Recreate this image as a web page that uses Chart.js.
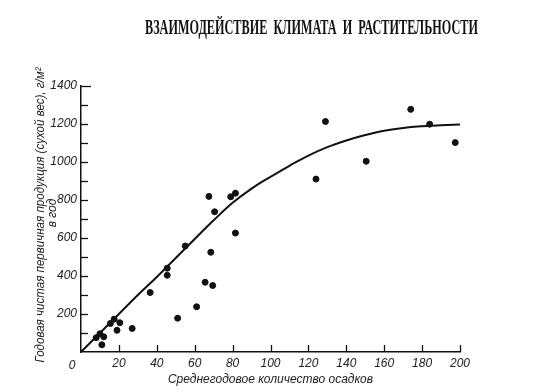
<!DOCTYPE html>
<html>
<head>
<meta charset="utf-8">
<script src="https://cdn.jsdelivr.net/npm/chart.js@4"></script>
<style>
  html, body { margin: 0; padding: 0; background: #fff; }
  #wrap { position: relative; width: 547px; height: 392px; }
</style>
</head>
<body>
<div id="wrap"><canvas id="chart" width="547" height="392"></canvas></div>
<script>
// scatter: precipitation vs production
const precipitation = [8, 10, 12, 11, 15.5, 17.5, 19, 20.5, 27, 36.5, 45.5, 45.5, 51, 55, 61, 65.5, 67.5, 68.5, 69.5, 70.5, 79, 81.5, 81.5, 124, 129, 150.5, 174, 184, 197.5];
const production = [75, 96, 80, 38, 150, 173, 114, 154, 124, 313, 441, 404, 178, 558, 238, 367, 819, 525, 350, 738, 817, 836, 626, 910, 1213, 1004, 1277, 1199, 1102];

// fitted curve
const curveX = [0, 10, 20, 30, 40, 50, 60, 70, 80, 90, 100, 110, 120, 130, 140, 150, 160, 170, 180, 190, 200];
const curveY = [0, 100, 200, 300, 395, 495, 595, 693, 785, 860, 922, 980, 1034, 1078, 1113, 1142, 1165, 1179, 1188, 1194, 1197];

const xTickLabels = [20, 40, 60, 80, 100, 120, 140, 160, 180, 200];
const yTickLabels = [200, 400, 600, 800, 1000, 1200, 1400];
const yMinorTicks = [100, 200, 300, 400, 500, 600, 700, 800, 900, 1000, 1100, 1200, 1300, 1400];

const titleText = "ВЗАИМОДЕЙСТВИЕ  КЛИМАТА  И  РАСТИТЕЛЬНОСТИ";
const yTitle1 = "Годовая чистая первичная продукция (сухой вес), г/м²";
const yTitle2 = "в год";
const xTitle = "Среднегодовое количество осадков";

const ink = '#111';
const tickFont = 'italic 12px "Liberation Sans"';

const extras = {
    id: 'extras',
    afterDraw(chart) {
        const ctx = chart.ctx;
        const xs = chart.scales.x, ys = chart.scales.y;
        ctx.save();
        ctx.strokeStyle = ink;
        ctx.lineWidth = 1.3;
        // inward tick marks
        xTickLabels.forEach(v => {
            const px = Math.round(xs.getPixelForValue(v)) + 0.5;
            ctx.beginPath();
            ctx.moveTo(px, ys.bottom);
            ctx.lineTo(px, ys.bottom - 7);
            ctx.stroke();
        });
        yMinorTicks.forEach(v => {
            const py = Math.round(ys.getPixelForValue(v)) + 0.5;
            ctx.beginPath();
            ctx.moveTo(xs.left, py);
            ctx.lineTo(xs.left + (v == 1400 ? 10 : 7), py);
            ctx.stroke();
        });

        ctx.fillStyle = '#222';
        // origin label
        ctx.font = tickFont;
        ctx.textAlign = 'center';
        ctx.textBaseline = 'middle';
        ctx.fillText('0', xs.left - 9, ys.bottom + 14);

        // y title, rotated
        ctx.font = 'italic 12px "Liberation Sans"';
        const w1 = ctx.measureText(yTitle1).width;
        ctx.save();
        ctx.translate(41, 215);
        ctx.rotate(-Math.PI / 2);
        ctx.scale(295 / w1, 1);
        ctx.fillText(yTitle1, 0, 0);
        ctx.restore();
        ctx.save();
        ctx.translate(53, 213);
        ctx.rotate(-Math.PI / 2);
        ctx.fillText(yTitle2, 0, 0);
        ctx.restore();

        // heading
        ctx.fillStyle = '#111';
        ctx.font = 'bold 21px "Liberation Serif"';
        ctx.textAlign = 'left';
        ctx.textBaseline = 'alphabetic';
        const tw = ctx.measureText(titleText).width;
        ctx.save();
        ctx.translate(145, 34);
        ctx.scale(333 / tw, 1);
        ctx.fillText(titleText, 0, 0);
        ctx.restore();
        ctx.restore();
    }
};

new Chart(document.getElementById('chart'), {
    data: {
        datasets: [{
            type: 'line',
            data: curveX.map((x, i) => ({x: x, y: curveY[i]})),
            borderColor: ink,
            borderWidth: 2,
            pointRadius: 0,
            tension: 0.4,
            fill: false
        }, {
            type: 'scatter',
            data: precipitation.map((x, i) => ({x: x, y: production[i]})),
            backgroundColor: ink,
            borderColor: ink,
            pointRadius: 3
        }]
    },
    options: {
        responsive: false,
        animation: false,
        layout: {padding: {left: 0, top: 86, right: 87, bottom: 0}},
        plugins: {legend: {display: false}, tooltip: {enabled: false}},
        scales: {
            x: {
                type: 'linear',
                min: 0, max: 200,
                grid: {display: false, drawTicks: false},
                border: {display: true, color: ink, width: 1.5},
                ticks: {
                    stepSize: 20,
                    color: '#222',
                    font: {family: 'Liberation Sans', style: 'italic', size: 12},
                    padding: 4,
                    maxRotation: 0,
                    callback: v => v === 0 ? '' : v
                },
                title: {
                    display: true,
                    text: xTitle,
                    color: '#222',
                    font: {family: 'Liberation Sans', style: 'italic', size: 12},
                    padding: {top: 0, bottom: 5}
                },
                afterFit: s => { s.height = 40; }
            },
            y: {
                min: 0, max: 1400,
                grid: {display: false, drawTicks: false},
                border: {display: true, color: ink, width: 1.5},
                ticks: {
                    stepSize: 200,
                    color: '#222',
                    font: {family: 'Liberation Sans', style: 'italic', size: 12},
                    padding: 4,
                    callback: v => v === 0 ? '' : v
                },
                afterFit: s => { s.width = 81; }
            }
        }
    },
    plugins: [extras]
});
</script>
</body>
</html>
